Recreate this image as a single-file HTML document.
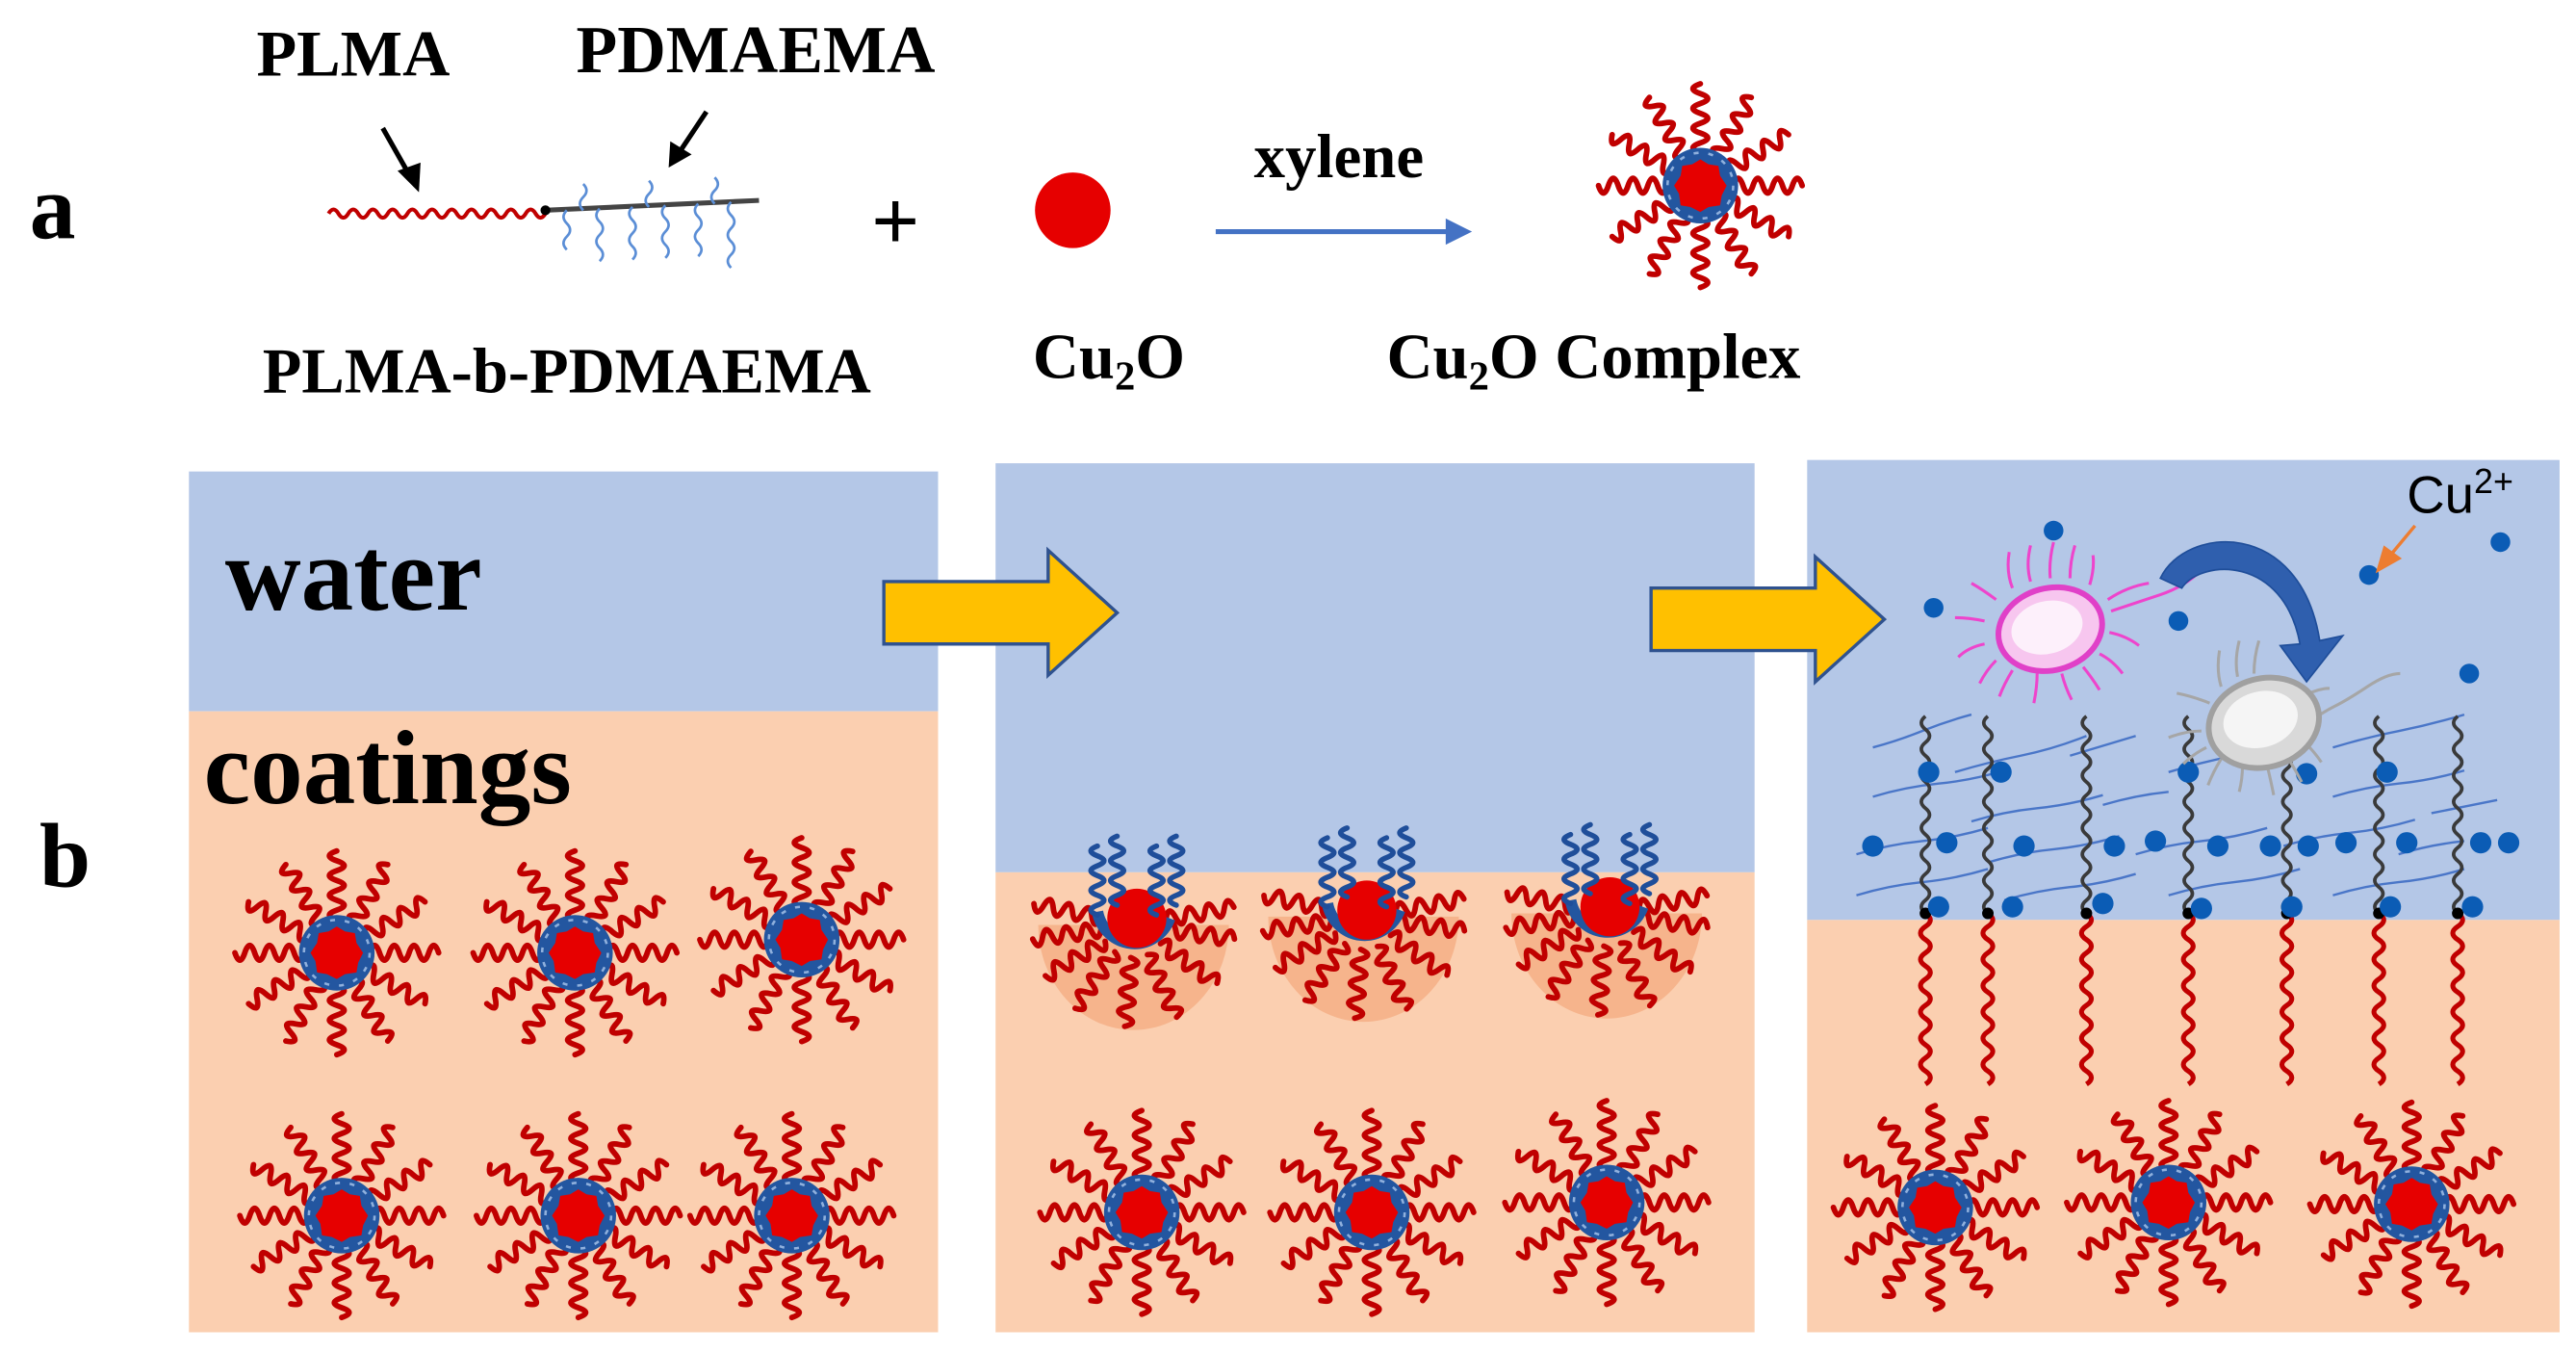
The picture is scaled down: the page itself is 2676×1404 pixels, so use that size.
<!DOCTYPE html>
<html><head><meta charset="utf-8"><style>
html,body{margin:0;padding:0;background:#fff;}
svg{display:block;}
.t{font-family:"Liberation Serif",serif;font-weight:bold;fill:#000;}
</style></head><body>
<svg width="2676" height="1404" viewBox="0 0 1568 823" preserveAspectRatio="none" xmlns="http://www.w3.org/2000/svg">
<defs>
<path id="arm" d="M20 0 q3 -9 6 0 t6 0 t6 0 t6 0 t6 0 t6 0 t6 0" fill="none" stroke="#c00000" stroke-width="3.4" stroke-linecap="round" stroke-linejoin="round"/>
<path id="barm" d="M0 0 q-8 -3 0 -6 t0 -6 t0 -6 t0 -6 t0 -6 t0 -6 t0 -6" fill="none" stroke="#1f4e9a" stroke-width="3.2" stroke-linecap="round"/>
<g id="m">
<use href="#arm" transform="rotate(0)"/><use href="#arm" transform="rotate(30)"/><use href="#arm" transform="rotate(60)"/>
<use href="#arm" transform="rotate(90)"/><use href="#arm" transform="rotate(120)"/><use href="#arm" transform="rotate(150)"/>
<use href="#arm" transform="rotate(180)"/><use href="#arm" transform="rotate(210)"/><use href="#arm" transform="rotate(240)"/>
<use href="#arm" transform="rotate(270)"/><use href="#arm" transform="rotate(300)"/><use href="#arm" transform="rotate(330)"/>
<circle r="23" fill="#2356a0"/>
<circle r="20" fill="none" stroke="#8fb0dd" stroke-width="1.5" stroke-dasharray="3 6"/>
<path d="M0 -16 L5 -13 L11 -12 L12 -6 L16 0 L13 6 L12 12 L5 13 L0 16 L-6 13 L-12 12 L-13 5 L-16 0 L-12 -6 L-11 -12 L-5 -13 Z" fill="#e60000"/>
</g>
<g id="h">
<path d="M-58 0 A58 64 0 0 0 58 0 Z" fill="#f6b48c"/>
<use href="#arm" transform="rotate(8)"/><use href="#arm" transform="rotate(35)"/><use href="#arm" transform="rotate(65)"/>
<use href="#arm" transform="rotate(95)"/><use href="#arm" transform="rotate(125)"/><use href="#arm" transform="rotate(150)"/>
<use href="#arm" transform="rotate(172)"/><use href="#arm" transform="rotate(192)"/><use href="#arm" transform="rotate(-10)"/>
<path d="M-22 -8 A23 24 0 0 0 22 -4" fill="none" stroke="#2356a0" stroke-width="7"/>
<circle cx="2" cy="-4" r="18" fill="#e60000"/>
<use href="#barm" transform="translate(-22,-6)"/><use href="#barm" transform="translate(-10,-12)"/>
<use href="#barm" transform="translate(14,-6)"/><use href="#barm" transform="translate(26,-12)"/>
</g>
<g id="br">
<path d="M0 0 q-5 -4 0 -8 t0 -8 t0 -8 t0 -8 t0 -8 t0 -8 t0 -8 t0 -8 t0 -8 t0 -8 t0 -8 t0 -8 t0 -8 t0 -8 t0 -8" fill="none" stroke="#3a3a3a" stroke-width="2.2"/>
<path d="M0 0 q6 4 0 8 t0 8 t0 8 t0 8 t0 8 t0 8 t0 8 t0 8 t0 8 t0 8 t0 8 t0 8 t0 8" fill="none" stroke="#c00000" stroke-width="3"/>
<circle r="3.5" fill="#000"/>
</g>
<g id="yarr"><path d="M0 -19 H100 V-38 L142 0 L100 38 V19 H0 Z" fill="#ffc000" stroke="#2f528f" stroke-width="2"/></g>
</defs>

<!-- panel a -->
<text class="t" x="215" y="46" font-size="40" text-anchor="middle">PLMA</text>
<text class="t" x="460" y="44" font-size="41" text-anchor="middle">PDMAEMA</text>
<line x1="233" y1="78" x2="250" y2="108" stroke="#000" stroke-width="3"/>
<path d="M255 117 L242 104 L256 99 Z" fill="#000"/>
<line x1="430" y1="68" x2="414" y2="92" stroke="#000" stroke-width="3"/>
<path d="M407 102 L408 86 L421 94 Z" fill="#000"/>
<path d="M200 130 q3 -5 6 0 t6 0 t6 0 t6 0 t6 0 t6 0 t6 0 t6 0 t6 0 t6 0 t6 0 t6 0 t6 0 t6 0 t6 0 t6 0 t6 0 t6 0 t6 0 t6 0 t6 0 t6 0" fill="none" stroke="#c00000" stroke-width="2.4"/>
<path d="M332 128 L462 122" stroke="#444" stroke-width="3"/>
<circle cx="332" cy="128" r="3" fill="#000"/>
<g fill="none" stroke="#5b8ed6" stroke-width="1.6">
<path d="M345 128 q-4 4 0 8 t0 8 t0 8"/><path d="M365 127 q-4 4 0 8 t0 8 t0 8 t0 8"/>
<path d="M385 126 q-4 4 0 8 t0 8 t0 8 t0 8"/><path d="M405 125 q-4 4 0 8 t0 8 t0 8 t0 8"/>
<path d="M425 124 q-4 4 0 8 t0 8 t0 8 t0 8"/><path d="M445 123 q-4 4 0 8 t0 8 t0 8 t0 8 t0 8"/>
<path d="M355 112 q4 4 0 8 t0 8"/><path d="M395 110 q4 4 0 8 t0 8"/><path d="M435 108 q4 4 0 8 t0 8"/>
</g>
<text class="t" x="18" y="145" font-size="56">a</text>
<text class="t" x="545" y="152" font-size="52" text-anchor="middle">+</text>
<circle cx="653" cy="128" r="23" fill="#e60000"/>
<text class="t" x="815" y="108" font-size="38" text-anchor="middle">xylene</text>
<line x1="740" y1="141" x2="882" y2="141" stroke="#4472c4" stroke-width="3"/>
<path d="M896 141 L880 133 L880 149 Z" fill="#4472c4"/>
<use href="#m" transform="translate(1035,113)"/>
<text class="t" x="345" y="239" font-size="39" text-anchor="middle">PLMA-b-PDMAEMA</text>
<text class="t" x="675" y="230" font-size="39" text-anchor="middle">Cu<tspan font-size="25" dy="7">2</tspan><tspan dy="-7">O</tspan></text>
<text class="t" x="970" y="230" font-size="39" text-anchor="middle">Cu<tspan font-size="25" dy="7">2</tspan><tspan dy="-7">O Complex</tspan></text>

<text class="t" x="24" y="540" font-size="56">b</text>

<!-- panel 1 -->
<rect x="115" y="287" width="456" height="146" fill="#b4c7e7"/>
<rect x="115" y="433" width="456" height="378" fill="#fbcfb0"/>
<text class="t" x="137" y="371" font-size="64">water</text>
<text class="t" x="124" y="489" font-size="64">coatings</text>
<use href="#m" transform="translate(205,580)"/><use href="#m" transform="translate(350,580)"/><use href="#m" transform="translate(488,572)"/>
<use href="#m" transform="translate(208,740)"/><use href="#m" transform="translate(352,740)"/><use href="#m" transform="translate(482,740)"/>

<!-- panel 2 -->
<rect x="606" y="282" width="462" height="249" fill="#b4c7e7"/>
<rect x="606" y="531" width="462" height="280" fill="#fbcfb0"/>
<use href="#h" transform="translate(690,563)"/><use href="#h" transform="translate(830,558)"/><use href="#h" transform="translate(978,556)"/>
<use href="#m" transform="translate(695,738)"/><use href="#m" transform="translate(835,738)"/><use href="#m" transform="translate(978,732)"/>

<!-- panel 3 -->
<rect x="1100" y="280" width="458" height="280" fill="#b4c7e7"/>
<rect x="1100" y="560" width="458" height="251" fill="#fbcfb0"/>
<g fill="none" stroke="#4a76c8" stroke-width="1.4">
<path d="M1140 455 q15 -4 30 -10 t30 -10 M1190 470 q20 -6 40 -10 t40 -12 M1260 460 q20 -6 40 -12 M1320 470 q20 -6 40 -10 M1420 455 q20 -6 40 -10 t40 -10"/>
<path d="M1140 485 q20 -6 40 -8 t40 -8 M1200 500 q20 -6 40 -8 t40 -8 M1280 490 q20 -6 40 -8 M1420 485 q20 -6 40 -8 t40 -8 M1480 495 q20 -4 40 -8"/>
<path d="M1130 520 q20 -6 40 -8 t40 -8 M1210 525 q20 -6 40 -8 t40 -8 M1300 520 q20 -6 40 -8 t40 -8 M1390 515 q20 -6 40 -8 t40 -8 M1460 520 q20 -6 40 -8"/>
<path d="M1130 545 q20 -6 40 -8 t40 -8 M1220 548 q20 -6 40 -8 t40 -8 M1320 545 q20 -6 40 -8 t40 -8 M1420 545 q20 -6 40 -8 t40 -8"/>
</g>
<use href="#br" transform="translate(1172,556)"/><use href="#br" transform="translate(1210,556)"/><use href="#br" transform="translate(1270,556)"/>
<use href="#br" transform="translate(1332,556)"/><use href="#br" transform="translate(1392,556)"/><use href="#br" transform="translate(1448,556)"/><use href="#br" transform="translate(1496,556)"/>
<g fill="#0b5cb5">
<circle cx="1250" cy="323" r="6"/><circle cx="1177" cy="370" r="6"/><circle cx="1326" cy="378" r="6"/><circle cx="1442" cy="350" r="6"/><circle cx="1522" cy="330" r="6"/><circle cx="1503" cy="410" r="6"/>
<circle cx="1174" cy="470" r="6.5"/><circle cx="1218" cy="470" r="6.5"/><circle cx="1332" cy="470" r="6.5"/><circle cx="1404" cy="471" r="6.5"/><circle cx="1453" cy="470" r="6.5"/>
<circle cx="1140" cy="515" r="6.5"/><circle cx="1185" cy="513" r="6.5"/><circle cx="1232" cy="515" r="6.5"/><circle cx="1287" cy="515" r="6.5"/><circle cx="1312" cy="512" r="6.5"/><circle cx="1350" cy="515" r="6.5"/><circle cx="1382" cy="515" r="6.5"/><circle cx="1405" cy="515" r="6.5"/><circle cx="1428" cy="513" r="6.5"/><circle cx="1465" cy="513" r="6.5"/><circle cx="1510" cy="513" r="6.5"/><circle cx="1527" cy="513" r="6.5"/>
<circle cx="1180" cy="552" r="6.5"/><circle cx="1225" cy="552" r="6.5"/><circle cx="1280" cy="550" r="6.5"/><circle cx="1340" cy="553" r="6.5"/><circle cx="1395" cy="552" r="6.5"/><circle cx="1455" cy="552" r="6.5"/><circle cx="1505" cy="552" r="6.5"/>
</g>
<!-- pink bacterium -->
<g stroke="#ee44cc" stroke-width="1.8" fill="none">
<path d="M1225 358 q-4 -10 -2 -22 M1236 354 q-3 -10 0 -22 M1248 352 q-1 -10 2 -22 M1260 352 q0 -10 3 -20 M1272 356 q3 -10 2 -18 M1215 365 q-8 -6 -15 -10 M1208 378 q-10 -2 -18 -2 M1208 392 q-10 2 -16 8 M1215 402 q-6 6 -10 14 M1225 408 q-5 8 -8 16 M1240 410 q0 8 -2 18 M1255 410 q2 8 6 16 M1268 406 q5 6 10 14 M1278 398 q8 4 14 12 M1284 385 q10 2 18 8 M1285 372 q15 -5 30 -10 t25 -15 M1283 365 q12 -8 25 -10"/>
</g>
<ellipse cx="1248" cy="383" rx="32" ry="25" transform="rotate(-15 1248 383)" fill="#f7c6ef" stroke="#e040c8" stroke-width="3.5"/>
<ellipse cx="1246" cy="382" rx="22" ry="16" transform="rotate(-15 1246 382)" fill="#fdf0fb"/>
<!-- gray bacterium -->
<g stroke="#a6a6a6" stroke-width="1.8" fill="none">
<path d="M1352 418 q-3 -10 -1 -22 M1362 412 q-2 -10 1 -22 M1372 410 q0 -10 3 -20 M1345 428 q-10 -4 -20 -6 M1340 445 q-10 0 -20 4 M1343 455 q-8 4 -14 10 M1352 462 q-5 8 -8 16 M1365 466 q0 8 -2 16 M1380 466 q2 8 4 18 M1393 462 q5 8 8 14 M1403 452 q6 6 10 12 M1405 440 q8 -6 16 -10 t20 -12 t20 -8 M1400 425 q10 -6 18 -6"/>
</g>
<ellipse cx="1378" cy="440" rx="34" ry="27" transform="rotate(-15 1378 440)" fill="#d9d9d9" stroke="#a0a0a0" stroke-width="3.5"/>
<ellipse cx="1376" cy="438" rx="23" ry="17" transform="rotate(-15 1376 438)" fill="#f5f5f5"/>
<!-- curved arrow -->
<path d="M1315 352 C1330 320 1400 315 1412 390 L1426 387 L1404 415 L1388 393 L1400 392 C1390 338 1340 340 1328 358 Z" fill="#2f5fae" stroke="#1f4e9a" stroke-width="1"/>
<!-- Cu2+ -->
<text x="1465" y="312" font-family="Liberation Sans, sans-serif" font-size="32" fill="#000">Cu<tspan font-size="21" dy="-12">2+</tspan></text>
<line x1="1470" y1="320" x2="1455" y2="338" stroke="#ed7d31" stroke-width="2"/>
<path d="M1446 349 L1451 332 L1462 340 Z" fill="#ed7d31"/>
<use href="#m" transform="translate(1178,735)"/><use href="#m" transform="translate(1320,732)"/><use href="#m" transform="translate(1468,733)"/>

<!-- yellow arrows on top -->
<use href="#yarr" transform="translate(538,373)"/>
<use href="#yarr" transform="translate(1005,377)"/>
</svg>
</body></html>
